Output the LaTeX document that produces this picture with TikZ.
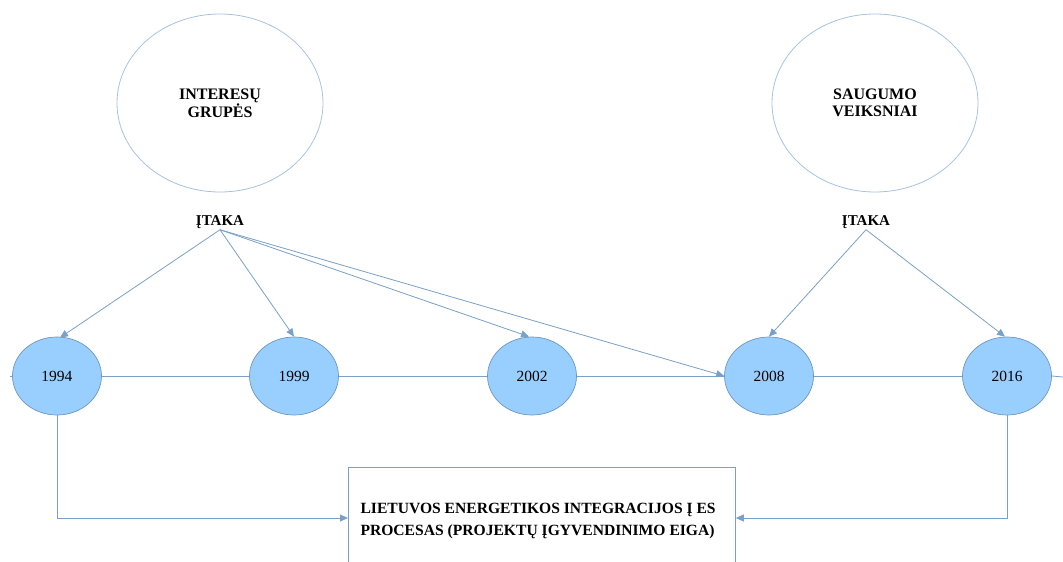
\documentclass[tikz,border=0pt]{standalone}
\usepackage{fontspec}
\setmainfont{Liberation Serif}
\definecolor{linkblue}{RGB}{120, 160, 200}
\definecolor{yearfill}{RGB}{153, 207, 255}
\definecolor{yearedge}{RGB}{110, 150, 190}
\definecolor{bigedge}{RGB}{165, 195, 225}
\usetikzlibrary{shapes, arrows.meta, positioning, calc}

\tikzset{
  factor/.style={ellipse, draw=bigedge, line width=0.8pt, minimum width=206pt, minimum height=178pt, align=center, font=\fontsize{16}{17}\selectfont\bfseries},
  year/.style={ellipse, draw=yearedge, fill=yearfill, line width=0.7pt, minimum width=89pt, minimum height=78pt, font=\fontsize{15.5}{16}\selectfont},
  influence/.style={font=\fontsize{15}{16}\selectfont\bfseries, inner sep=1pt},
  link/.style={draw=linkblue, line width=0.8pt},
  arrowlink/.style={link, -{Triangle[length=8pt, width=7pt]}}
}

\begin{document}
\begin{tikzpicture}[x=1pt, y=-1pt]
  \useasboundingbox (0,0) rectangle (1063,562);

  % factors
  \node[factor] (interest) at (220,103) {INTERESŲ\\GRUPĖS};
  \node[factor] (security) at (875,103) {SAUGUMO\\VEIKSNIAI};
  \node[influence] (itakaL) at (220,222) {ĮTAKA};
  \node[influence] (itakaR) at (866,222) {ĮTAKA};

  % timeline
  \node[year] (y1994) at (57,376) {1994};
  \node[year] (y1999) at (294,376) {1999};
  \node[year] (y2002) at (532,376) {2002};
  \node[year] (y2008) at (769,376) {2008};
  \node[year] (y2016) at (1007,376) {2016};
  \coordinate (tlStart) at (10,376);
  \coordinate (tlEnd) at (1063,377);

  \draw[link] (tlStart) -- (y1994.west);
  \draw[link] (y1994.east) -- (y1999.west);
  \draw[link] (y1999.east) -- (y2002.west);
  \draw[link] (y2002.east) -- (y2008.west);
  \draw[link] (y2008.east) -- (y2016.west);
  \draw[link] (y2016.east) -- (tlEnd);

  % process box
  \node[draw=linkblue, line width=0.8pt, minimum width=387pt, minimum height=97pt, anchor=north west, inner sep=0pt] (process) at (348,467) {};
  \node[anchor=west, align=left, font=\fontsize{15.6}{22}\selectfont\bfseries] (processText) at (357,521) {LIETUVOS ENERGETIKOS INTEGRACIJOS Į ES\\PROCESAS (PROJEKTŲ ĮGYVENDINIMO EIGA)};

  % influence arrows
  \draw[arrowlink] (itakaL.south) -- ($(y1994.north)+(3,1)$);
  \draw[arrowlink] (itakaL.south) -- (y1999.north);
  \draw[arrowlink] (itakaL.south) -- ($(y2002.north)+(-3,0)$);
  \draw[arrowlink] (itakaL.south) -- (y2008.west);
  \draw[arrowlink] (itakaR.south) -- (y2008.north);
  \draw[arrowlink] (itakaR.south) -- ($(y2016.north)+(-2,0)$);

  % links to process
  \draw[arrowlink] (y1994.south) |- (process.west |- 0,518);
  \draw[arrowlink] (y2016.south) |- (process.east |- 0,518);
\end{tikzpicture}
\end{document}
